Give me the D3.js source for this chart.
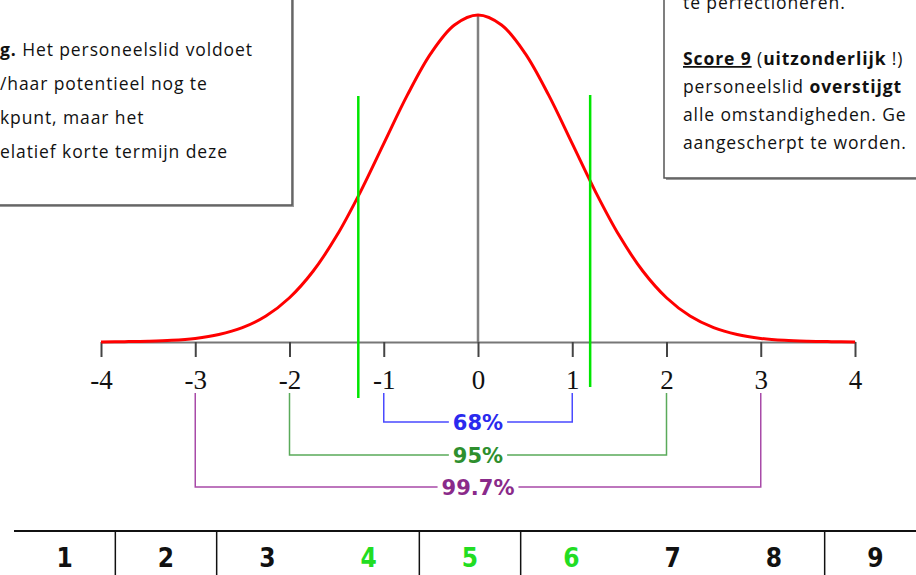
<!DOCTYPE html>
<html>
<head>
<meta charset="utf-8">
<script src="https://cdn.jsdelivr.net/npm/d3@7"></script>
<style>
  body { margin: 0; background: #fff; }
  svg { display: block; }
</style>
</head>
<body>
<svg id="chart" width="916" height="575"></svg>
<script>
// values
var curveX = [-4, -3.75, -3.5, -3.25, -3, -2.75, -2.5, -2.25, -2, -1.75, -1.5, -1.25, -1, -0.75, -0.5, -0.25, 0,
    0.25, 0.5, 0.75, 1, 1.25, 1.5, 1.75, 2, 2.25, 2.5, 2.75, 3, 3.25, 3.5, 3.75, 4];
var curveDensity = [0.0001, 0.0004, 0.0009, 0.002, 0.0044, 0.0091, 0.0175, 0.0317, 0.054, 0.0863, 0.1295, 0.1826, 0.242, 0.3011, 0.3521, 0.3867, 0.3989,
    0.3867, 0.3521, 0.3011, 0.242, 0.1826, 0.1295, 0.0863, 0.054, 0.0317, 0.0175, 0.0091, 0.0044, 0.002, 0.0009, 0.0004, 0.0001];
var axisTicks = [-4, -3, -2, -1, 0, 1, 2, 3, 4];
var cutoffs = [-1.27, 1.19];
var bracketSd = [1, 2, 3];
var bracketLabels = ['68%', '95%', '99.7%'];
var scores = [1, 2, 3, 4, 5, 6, 7, 8, 9];
var greenScores = [4, 5, 6];
var dividersAfter = [1, 2, 4, 5, 8];
var leftBoxLines = [
    [['g.', true], [' Het personeelslid voldoet', false]],
    [['/haar potentieel nog te', false]],
    [['kpunt, maar het', false]],
    [['elatief korte termijn deze', false]]
];
var rightBoxLines = [
    [['te perfectioneren.', false]],
    [],
    [['Score 9', true, true], [' (', false], ['uitzonderlijk', true], [' !)', false]],
    [['personeelslid ', false], ['overstijgt', true]],
    [['alle omstandigheden. Ge', false]],
    [['aangescherpt te worden.', false]]
];

var svg = d3.select('#chart');

var x = d3.scaleLinear().domain([-4, 4]).range([101, 855]);
var y = d3.scaleLinear().domain([0, 0.3989]).range([342, 15]);

// text boxes (cut off by the page edges)
function box(bx, by, bw, bh) {
    svg.append('rect').attr('x', bx + 2).attr('y', by + 2).attr('width', bw).attr('height', bh)
        .attr('fill', '#9a9a9a');
    svg.append('rect').attr('x', bx).attr('y', by).attr('width', bw).attr('height', bh)
        .attr('fill', '#fff').attr('stroke', '#555').attr('stroke-width', 1.5);
}
box(-20, -20, 312, 225);
box(664, -20, 300, 198);

function writeLines(lines, x0, y0, step, size) {
    lines.forEach(function(line, i) {
        if (!line.length) return;
        var t = svg.append('text')
            .attr('x', x0).attr('y', y0 + i * step)
            .attr('font-family', '"Open Sans", sans-serif')
            .attr('font-size', size)
            .attr('letter-spacing', 0.9)
            .attr('fill', '#111')
            .attr('xml:space', 'preserve');
        line.forEach(function(seg) {
            t.append('tspan')
                .attr('font-weight', seg[1] ? 'bold' : 'normal')
                .attr('text-decoration', seg[2] ? 'underline' : null)
                .text(seg[0]);
        });
    });
}
writeLines(leftBoxLines, 0, 56, 34, 17.5);
writeLines(rightBoxLines, 683, 9, 28, 17.5);

// zero line
svg.append('line')
    .attr('x1', x(0)).attr('x2', x(0))
    .attr('y1', y(0.3989)).attr('y2', y(0))
    .attr('stroke', '#808080').attr('stroke-width', 2.5);

// axis
var axis = svg.append('g')
    .attr('transform', 'translate(0,' + y(0) + ')')
    .call(d3.axisBottom(x).tickValues(axisTicks).tickSize(15).tickSizeOuter(0).tickPadding(13)
        .tickFormat(function(d) { return String(d); }));
axis.select('.domain').attr('stroke', '#777').attr('stroke-width', 2);
axis.selectAll('.tick line').attr('stroke', '#444').attr('stroke-width', 2);
axis.selectAll('.tick text')
    .attr('font-family', '"Liberation Serif", serif')
    .attr('font-size', 27)
    .attr('fill', '#111');

// normal curve
var curveData = curveX.map(function(v, i) { return [v, curveDensity[i]]; });
svg.append('path')
    .datum(curveData)
    .attr('fill', 'none')
    .attr('stroke', '#ff0000')
    .attr('stroke-width', 3)
    .attr('d', d3.line()
        .x(function(d) { return x(d[0]); })
        .y(function(d) { return y(d[1]); })
        .curve(d3.curveCatmullRom));

// green cut-off lines
var cutTop = [96, 95];
var cutBottom = [398, 387];
svg.selectAll('.cut')
    .data(cutoffs)
    .enter().append('line')
    .attr('class', 'cut')
    .attr('x1', function(d) { return x(d); })
    .attr('x2', function(d) { return x(d); })
    .attr('y1', function(d, i) { return cutTop[i]; })
    .attr('y2', function(d, i) { return cutBottom[i]; })
    .attr('stroke', '#00e600').attr('stroke-width', 2.5);

// brackets
var lineColors = ['#4a4aff', '#5aaa5a', '#a84aa8'];
var textColors = ['#2a2aee', '#2e8f2e', '#8a2a8a'];
var bracketY = [422, 455, 487];
bracketSd.forEach(function(sd, i) {
    var by = bracketY[i];
    var g = svg.append('g');
    g.append('path')
        .attr('d', 'M' + x(-sd) + ',393V' + by + 'H' + x(sd) + 'V393')
        .attr('fill', 'none')
        .attr('stroke', lineColors[i]).attr('stroke-width', 1.5);
    var t = g.append('text')
        .attr('x', x(0)).attr('y', by)
        .attr('dy', '0.36em')
        .attr('text-anchor', 'middle')
        .attr('font-family', '"DejaVu Sans", sans-serif')
        .attr('font-weight', 'bold')
        .attr('font-size', 21)
        .attr('fill', textColors[i])
        .text(bracketLabels[i]);
    var bb = t.node().getBBox();
    g.insert('rect', 'text')
        .attr('x', bb.x - 4).attr('y', by - 4)
        .attr('width', bb.width + 8).attr('height', 8)
        .attr('fill', '#fff');
});

// score table
var band = d3.scaleBand().domain(scores).range([14, 926]);
svg.append('line')
    .attr('x1', 14).attr('x2', 916).attr('y1', 531).attr('y2', 531)
    .attr('stroke', '#111').attr('stroke-width', 2);
svg.selectAll('.divider')
    .data(dividersAfter)
    .enter().append('line')
    .attr('class', 'divider')
    .attr('x1', function(d) { return band(d) + band.bandwidth(); })
    .attr('x2', function(d) { return band(d) + band.bandwidth(); })
    .attr('y1', 531).attr('y2', 575)
    .attr('stroke', '#111').attr('stroke-width', 1.5);
svg.selectAll('.score')
    .data(scores)
    .enter().append('text')
    .attr('class', 'score')
    .attr('x', function(d) { return band(d) + band.bandwidth() / 2; })
    .attr('y', 567)
    .attr('text-anchor', 'middle')
    .attr('font-family', '"DejaVu Sans Condensed", "DejaVu Sans", sans-serif')
    .attr('font-weight', 'bold')
    .attr('font-size', 26)
    .attr('fill', function(d) { return greenScores.indexOf(d) >= 0 ? '#22dd22' : '#111'; })
    .text(function(d) { return d; });
</script>
</body>
</html>
